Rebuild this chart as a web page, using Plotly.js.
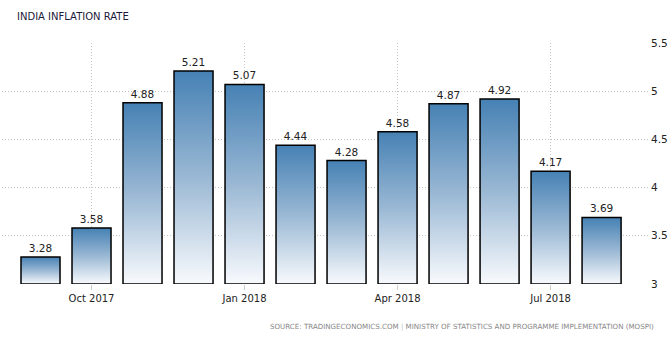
<!DOCTYPE html>
<html>
<head>
<meta charset="utf-8">
<script src="https://cdn.plot.ly/plotly-3.0.1.min.js"></script>
<style>html,body{margin:0;padding:0;background:#fff;}#chart{width:672px;height:340px;}</style>
</head>
<body>
<div id="chart"></div>
<script>
const months = ['Sep 2017','Oct 2017','Nov 2017','Dec 2017','Jan 2018','Feb 2018','Mar 2018','Apr 2018','May 2018','Jun 2018','Jul 2018','Aug 2018'];
const inflation = [3.28, 3.58, 4.88, 5.21, 5.07, 4.44, 4.28, 4.58, 4.87, 4.92, 4.17, 3.69];
const tickMonths = ['Oct 2017','Jan 2018','Apr 2018','Jul 2018'];
const yTicks = [3, 3.5, 4, 4.5, 5, 5.5];
const axisFloor = 3;

const font = '"DejaVu Sans", "Liberation Sans", sans-serif';
const trace = {
  type: 'bar',
  x: months,
  y: inflation.map(v => v - axisFloor),
  base: axisFloor,
  text: inflation.map(v => v.toFixed(2)),
  textposition: 'outside',
  cliponaxis: false,
  textfont: {family: font, size: 10.5, color: '#222'},
  marker: {color: '#7fa3c8', line: {color: '#000', width: 1.5}},
  hoverinfo: 'none'
};
const layout = {
  width: 672, height: 340,
  margin: {l: 2, r: 24, t: 43, b: 56},
  paper_bgcolor: '#fff', plot_bgcolor: '#fff',
  bargap: 0.235,
  showlegend: false,
  font: {family: font, size: 10, color: '#222'},
  xaxis: {
    type: 'category',
    range: [-0.755, 11.91],
    tickvals: tickMonths,
    ticktext: tickMonths,
    showgrid: true, gridcolor: '#c4c4c4', griddash: '1px,2px', gridwidth: 1,
    ticks: 'outside', ticklen: 5, tickcolor: '#cccccc',
    showline: false, zeroline: false,
    tickfont: {family: font, size: 10, color: '#222'},
    fixedrange: true
  },
  yaxis: {
    side: 'right',
    range: [3, 5.5],
    tickvals: yTicks,
    ticktext: yTicks.map(String),
    showgrid: true, gridcolor: '#c4c4c4', griddash: '1px,2px', gridwidth: 1,
    zeroline: false, showline: false, ticks: '',
    ticklabelstandoff: 2,
    tickfont: {family: font, size: 10.5, color: '#222'},
    fixedrange: true
  },
  annotations: [
    {text: 'INDIA INFLATION RATE', xref: 'paper', yref: 'paper', x: 13/646, y: 1 + (43-17)/241, xanchor: 'left', yanchor: 'middle', showarrow: false,
     font: {family: font, size: 10, color: '#1a1a3a'}},
    {text: 'SOURCE: TRADINGECONOMICS.COM <span style="color:#bbb">|</span> MINISTRY OF STATISTICS AND PROGRAMME IMPLEMENTATION (MOSPI)', xref: 'paper', yref: 'paper',
     x: (656-2)/646, y: -(326-284)/241, xanchor: 'right', yanchor: 'middle', showarrow: false,
     font: {family: font, size: 7.1, color: '#888'}}
  ]
};
Plotly.newPlot('chart', [trace], layout, {displayModeBar: false, staticPlot: true}).then(gd => {
  const svg = gd.querySelector('svg.main-svg');
  const ns = 'http://www.w3.org/2000/svg';
  let defs = svg.querySelector('defs');
  if (!defs) { defs = document.createElementNS(ns, 'defs'); svg.insertBefore(defs, svg.firstChild); }
  const g = document.createElementNS(ns, 'linearGradient');
  g.setAttribute('id', 'barGrad');
  g.setAttribute('x1', '0'); g.setAttribute('y1', '0'); g.setAttribute('x2', '0'); g.setAttribute('y2', '1');
  [['0', '#4681b4'], ['0.5', '#9ab8d4'], ['1', '#f8fafd']].forEach(([o, c]) => {
    const s = document.createElementNS(ns, 'stop');
    s.setAttribute('offset', o); s.setAttribute('stop-color', c);
    g.appendChild(s);
  });
  defs.appendChild(g);
  gd.querySelectorAll('.bars .point path').forEach(p => { p.style.fill = 'url(#barGrad)'; p.style.fillOpacity = 1; });
});
</script>
</body>
</html>
